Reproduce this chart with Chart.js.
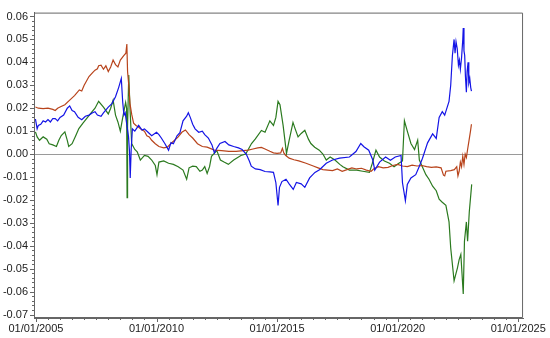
<!DOCTYPE html>
<html>
<head>
<meta charset="utf-8">
<script src="https://cdn.jsdelivr.net/npm/chart.js@4"></script>
<style>
body{margin:0;background:#fff;}
canvas{display:block;}
</style>
</head>
<body>
<canvas id="grafico" width="550" height="338"></canvas>
<script>

// valores (fecha en años decimales)
const fechasAzul=[2004.98,2005.05,2005.1,2005.2,2005.3,2005.4,2005.5,2005.6,2005.7,2005.8,2005.9,2006.0,2006.15,2006.3,2006.4,2006.5,2006.6,2006.75,2006.9,2007.05,2007.2,2007.35,2007.45,2007.55,2007.7,2007.8,2008.0,2008.15,2008.3,2008.43,2008.54,2008.6,2008.65,2008.7,2008.84,2008.88,2008.91,2008.95,2009.0,2009.1,2009.26,2009.4,2009.5,2009.65,2009.8,2010.0,2010.1,2010.2,2010.35,2010.5,2010.6,2010.7,2010.85,2010.97,2011.1,2011.25,2011.32,2011.4,2011.5,2011.6,2011.75,2011.9,2012.0,2012.15,2012.3,2012.4,2012.5,2012.63,2012.84,2013.0,2013.2,2013.4,2013.55,2013.72,2013.85,2013.93,2014.1,2014.3,2014.5,2014.7,2014.85,2014.95,2015.04,2015.1,2015.2,2015.37,2015.5,2015.67,2015.8,2016.0,2016.15,2016.35,2016.57,2016.76,2017.04,2017.3,2017.59,2018.0,2018.27,2018.47,2018.6,2018.8,2018.97,2019.05,2019.25,2019.5,2019.7,2019.9,2020.14,2020.2,2020.32,2020.4,2020.55,2020.75,2020.9,2021.03,2021.24,2021.45,2021.6,2021.72,2021.85,2021.95,2022.13,2022.2,2022.27,2022.3,2022.34,2022.38,2022.42,2022.47,2022.52,2022.56,2022.6,2022.65,2022.7,2022.72,2022.75,2022.78,2022.81,2022.85,2022.88,2022.92,2022.95,2022.99,2023.03,2023.06];
const valoresAzul=[0.0153,0.011,0.0125,0.013,0.0145,0.014,0.015,0.014,0.0155,0.0155,0.0145,0.016,0.017,0.02,0.021,0.019,0.0185,0.016,0.015,0.0165,0.017,0.018,0.0185,0.017,0.0165,0.018,0.0205,0.022,0.025,0.029,0.033,0.0225,0.017,0.018,0.0075,0.0012,-0.0104,0.002,0.011,0.01,0.0125,0.0105,0.011,0.0095,0.008,0.0095,0.0085,0.007,0.0045,0.0017,0.005,0.0045,0.008,0.0093,0.0145,0.0165,0.018,0.016,0.013,0.011,0.0095,0.01,0.0085,0.007,0.004,0.0005,0.0025,0.0046,0.0055,0.004,0.0033,0.0027,0.002,0.0,-0.003,-0.0053,-0.0065,-0.0068,-0.0076,-0.0078,-0.008,-0.0125,-0.0224,-0.0145,-0.012,-0.011,-0.013,-0.0154,-0.0124,-0.013,-0.0145,-0.0104,-0.008,-0.0068,-0.004,-0.0026,-0.0018,-0.0013,0.0011,0.0046,0.0032,0.0017,-0.0026,-0.007,-0.0035,-0.0013,-0.0027,-0.0013,-0.0006,-0.0125,-0.0203,-0.0133,-0.0104,-0.009,-0.0053,-0.0018,0.0049,0.0088,0.0068,0.016,0.0185,0.017,0.023,0.03,0.043,0.046,0.05,0.044,0.049,0.046,0.0388,0.041,0.037,0.042,0.05,0.055,0.045,0.043,0.034,0.027,0.036,0.04,0.031,0.033,0.029,0.0275];

const fechasRojo=[2004.98,2005.1,2005.3,2005.5,2005.7,2005.8,2005.9,2006.0,2006.2,2006.4,2006.6,2006.8,2006.9,2007.0,2007.2,2007.35,2007.45,2007.55,2007.6,2007.7,2007.8,2007.9,2008.0,2008.1,2008.2,2008.3,2008.4,2008.5,2008.65,2008.73,2008.77,2008.8,2008.85,2008.9,2008.97,2009.05,2009.15,2009.25,2009.4,2009.5,2009.6,2009.7,2009.8,2009.95,2010.1,2010.3,2010.45,2010.6,2010.75,2010.9,2011.05,2011.2,2011.35,2011.5,2011.7,2011.9,2012.1,2012.4,2012.7,2013.0,2013.3,2013.6,2013.8,2014.0,2014.2,2014.35,2014.5,2014.7,2014.85,2015.0,2015.15,2015.22,2015.28,2015.35,2015.5,2015.7,2015.9,2016.2,2016.5,2016.7,2016.9,2017.1,2017.3,2017.5,2017.7,2017.9,2018.1,2018.3,2018.5,2018.7,2018.9,2019.0,2019.2,2019.4,2019.6,2019.8,2020.0,2020.2,2020.4,2020.6,2020.8,2021.0,2021.2,2021.4,2021.6,2021.8,2021.9,2021.95,2022.0,2022.2,2022.35,2022.45,2022.5,2022.55,2022.6,2022.65,2022.7,2022.75,2022.8,2022.85,2022.9,2022.96,2023.02,2023.06];
const valoresRojo=[0.0205,0.02,0.0198,0.02,0.0195,0.019,0.02,0.0205,0.0215,0.0235,0.0255,0.028,0.0275,0.03,0.0338,0.0355,0.0366,0.0372,0.0385,0.0388,0.037,0.0385,0.036,0.038,0.041,0.039,0.038,0.041,0.043,0.044,0.048,0.036,0.03,0.022,0.0174,0.0135,0.0125,0.0118,0.0105,0.01,0.008,0.0075,0.006,0.0045,0.0033,0.0027,0.003,0.0046,0.006,0.0075,0.0095,0.0105,0.0085,0.007,0.0045,0.0033,0.003,0.0017,0.0015,0.0012,0.0012,0.0015,0.0017,0.0022,0.0027,0.0029,0.0022,0.0012,0.0005,0.0003,0.0005,0.0025,0.0005,-0.0005,-0.0018,-0.0025,-0.003,-0.004,-0.0052,-0.006,-0.0068,-0.007,-0.0072,-0.0065,-0.0075,-0.0068,-0.006,-0.0065,-0.0062,-0.007,-0.0075,-0.0065,-0.0055,-0.006,-0.0058,-0.005,-0.0045,-0.0052,-0.0055,-0.0048,-0.0052,-0.005,-0.0055,-0.0058,-0.0056,-0.006,-0.0092,-0.0095,-0.0075,-0.0072,-0.0068,-0.0055,-0.0095,-0.0075,-0.0035,-0.0055,-0.001,-0.0045,0.0,-0.0015,0.002,0.006,0.01,0.013];

const fechasVerde=[2004.98,2005.05,2005.15,2005.3,2005.45,2005.55,2005.7,2005.85,2005.95,2006.05,2006.2,2006.3,2006.36,2006.5,2006.65,2006.78,2006.95,2007.1,2007.33,2007.45,2007.6,2007.8,2008.0,2008.1,2008.2,2008.3,2008.4,2008.5,2008.6,2008.72,2008.76,2008.78,2008.8,2008.85,2008.9,2008.97,2009.1,2009.2,2009.33,2009.5,2009.65,2009.8,2009.95,2010.02,2010.1,2010.3,2010.5,2010.7,2010.9,2011.1,2011.25,2011.35,2011.5,2011.65,2011.8,2011.9,2012.0,2012.1,2012.2,2012.28,2012.5,2012.65,2012.8,2012.98,2013.2,2013.5,2013.7,2013.94,2014.1,2014.35,2014.5,2014.7,2014.85,2014.95,2015.04,2015.12,2015.25,2015.39,2015.5,2015.66,2015.75,2015.87,2016.0,2016.15,2016.3,2016.4,2016.56,2016.75,2016.9,2017.04,2017.2,2017.4,2017.6,2017.73,2018.0,2018.3,2018.55,2018.83,2018.95,2019.1,2019.25,2019.45,2019.66,2019.85,2020.05,2020.2,2020.28,2020.4,2020.55,2020.7,2020.83,2020.9,2021.0,2021.17,2021.3,2021.45,2021.6,2021.72,2021.85,2022.0,2022.13,2022.2,2022.34,2022.42,2022.48,2022.55,2022.62,2022.72,2022.77,2022.85,2022.9,2022.97,2023.07];
const valoresVerde=[0.0097,0.0075,0.006,0.0075,0.0065,0.0045,0.004,0.0033,0.006,0.0081,0.0097,0.006,0.0033,0.0045,0.008,0.0111,0.0135,0.0155,0.0185,0.02,0.023,0.0205,0.0175,0.02,0.0235,0.017,0.014,0.01,0.016,0.0225,0.02,-0.019,0.012,0.0345,0.02,0.0046,0.002,0.001,-0.0026,-0.0006,-0.001,-0.0026,-0.005,-0.009,-0.0035,-0.003,-0.004,-0.0045,-0.0055,-0.007,-0.011,-0.006,-0.0053,-0.0055,-0.0075,-0.007,-0.0055,-0.0085,-0.0055,-0.001,0.0015,-0.0026,-0.0035,-0.0045,-0.0026,-0.0006,0.0,0.0046,0.0066,0.0103,0.0095,0.0145,0.0125,0.016,0.023,0.0215,0.0125,0.0003,0.006,0.0138,0.011,0.0075,0.009,0.0104,0.0065,0.0046,0.003,0.0017,0.0,-0.0026,-0.0013,-0.0026,-0.0045,-0.0055,-0.007,-0.007,-0.0075,-0.008,-0.004,0.0017,-0.0013,-0.003,-0.004,-0.0055,-0.004,-0.003,0.0145,0.01,0.0046,0.002,0.0061,-0.0026,-0.005,-0.009,-0.011,-0.014,-0.016,-0.0197,-0.021,-0.0224,-0.0296,-0.041,-0.0553,-0.052,-0.0496,-0.046,-0.0438,-0.061,-0.038,-0.0296,-0.038,-0.0253,-0.0132];

const añosEtiqueta=[2005,2010,2015,2020,2025];
const valoresEjeY=[-0.07,-0.06,-0.05,-0.04,-0.03,-0.02,-0.01,0,0.01,0.02,0.03,0.04,0.05,0.06];

function puntos(fechas,valores){
return fechas.map((f,i)=>({x:f,y:valores[i]}));
}

// marcas menores y mayores de los ejes
const marcas={
id:"marcas",
afterDraw(chart){
const ctx=chart.ctx;
const area=chart.chartArea;
const sx=chart.scales.x;
const sy=chart.scales.y;
ctx.save();
ctx.strokeStyle="#666";
ctx.lineWidth=1;
ctx.beginPath();
ctx.rect(area.left+0.5,area.top+0.5,area.right-area.left-1,area.bottom-area.top-1);
ctx.stroke();
ctx.beginPath();
for(let i=0;i<=40;i++){
let x=Math.round(sx.getPixelForValue(2005+i*0.5))+0.5;
let largo=(i%10===0)?4:2;
ctx.moveTo(x,area.bottom);
ctx.lineTo(x,area.bottom+largo);
}
for(let i=0;i<=65;i++){
let v=-0.07+i*0.002;
let y=Math.round(sy.getPixelForValue(v))+0.5;
let largo=(i%5===0)?4:2;
ctx.moveTo(area.left,y);
ctx.lineTo(area.left-largo,y);
}
ctx.stroke();
ctx.restore();
}
};

Chart.defaults.font.family="'Liberation Sans', Arial, sans-serif";
Chart.defaults.font.size=11;
Chart.defaults.color="#222";

new Chart(document.getElementById("grafico"),{
type:"line",
data:{
datasets:[
{data:puntos(fechasAzul,valoresAzul),borderColor:"#1414e6",borderWidth:1.2},
{data:puntos(fechasRojo,valoresRojo),borderColor:"#b8441c",borderWidth:1.2},
{data:puntos(fechasVerde,valoresVerde),borderColor:"#2b7a1f",borderWidth:1.2}
]
},
options:{
responsive:false,
animation:false,
layout:{padding:{top:6,right:24,left:0,bottom:0}},
elements:{point:{radius:0},line:{tension:0}},
plugins:{legend:{display:false},tooltip:{enabled:false}},
scales:{
x:{
type:"linear",
min:2004.92,
max:2025.2,
afterBuildTicks(s){s.ticks=añosEtiqueta.map(v=>({value:v}));},
afterFit(s){s.height=20;},
grid:{display:false,drawTicks:false},
border:{display:true,color:"#666"},
ticks:{padding:4,maxRotation:0,autoSkip:false,callback:v=>"01/01/"+v}
},
y:{
min:-0.0715,
max:0.0617,
afterBuildTicks(s){s.ticks=valoresEjeY.map(v=>({value:v}));},
afterFit(s){s.width=34;},
grid:{drawTicks:false,color:c=>c.tick&&c.tick.value===0?"#9a9a9a":"rgba(0,0,0,0)"},
border:{display:true,color:"#666"},
ticks:{padding:6,callback:v=>v.toFixed(2)}
}
}
},
plugins:[marcas]
});

</script>
</body>
</html>
